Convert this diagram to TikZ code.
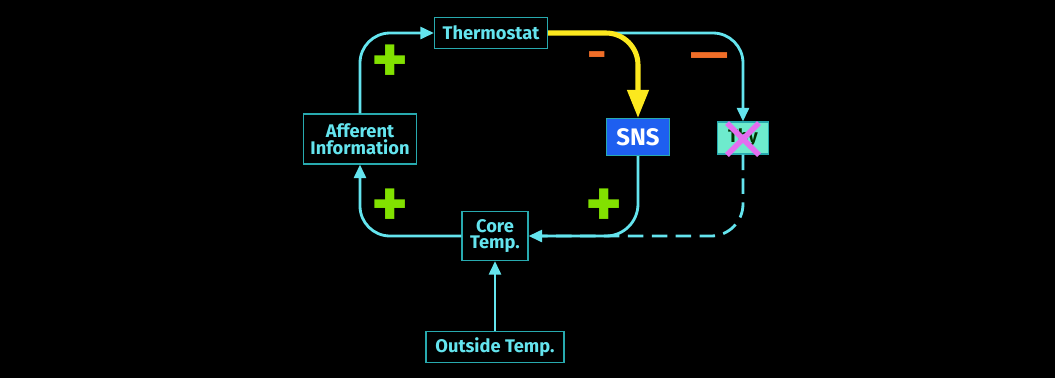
\documentclass[tikz,border=0pt]{standalone}
\usepackage{fontspec}
\setmainfont{Fira Sans}
\usepackage{xcolor}
\usetikzlibrary{positioning,arrows.meta,calc}
\definecolor{cyanline}{RGB}{100,228,238}
\definecolor{boxedge}{RGB}{40,170,175}
\definecolor{snsblue}{RGB}{30,95,240}
\definecolor{thyfill}{RGB}{110,235,205}
\definecolor{plusgreen}{RGB}{130,225,0}
\definecolor{minusorange}{RGB}{240,110,40}
\definecolor{crossmag}{RGB}{228,110,240}
\definecolor{hotyellow}{RGB}{252,232,30}
\tikzset{
  box/.style={rectangle, draw=boxedge, line width=0.8pt, align=center, text=cyanline, inner sep=1pt, font=\bfseries\fontsize{13}{14}\selectfont},
  flow/.style={-{Triangle[length=3.4mm,width=3mm]}, line width=2pt, color=cyanline, rounded corners=0.75cm},
  hot/.style={-{Triangle[length=7mm,width=5.2mm]}, line width=3.6pt, color=hotyellow, rounded corners=0.8cm},
  plus/.style={text=plusgreen, font=\bfseries\fontsize{50}{50}\selectfont, inner sep=0pt},
  minus/.style={text=minusorange, font=\bfseries\fontsize{34}{34}\selectfont, inner sep=0pt}
}
\begin{document}
\begin{tikzpicture}[x=0.025cm, y=-0.025cm]
\fill[black] (0,0) rectangle (1055,378);
\useasboundingbox (0,0) rectangle (1055,378);
\node[box, minimum width=2.825cm, minimum height=0.775cm] (thermo) at (491,33) {Thermostat};
\node[box, minimum width=2.825cm, minimum height=1.25cm] (aff) at (360,139) {Afferent\\[-2pt]Information};
\node[box, fill=snsblue, text=white, minimum width=1.575cm, minimum height=0.925cm, font=\bfseries\fontsize{17}{18}\selectfont] (sns) at (638,137) {SNS};
\node[box, fill=thyfill, text=black!80!green, minimum width=1.275cm, minimum height=0.8cm] (thy) at (743,138) {Thy};
\node[box, minimum width=1.65cm, minimum height=1.225cm] (core) at (495,236) {Core\\[-2pt]Temp.};
\node[box, below=1.75cm of core, minimum width=3.45cm, minimum height=0.775cm] (outside) {Outside Temp.};
% loop
\draw[flow] (aff.north) |- (thermo.west);
\draw[flow] (core.west) -| (aff.south);
\draw[flow] (thermo.east) -| (thy.north);
\draw[hot] (thermo.east) -| (sns.north);
\draw[flow, rounded corners=0.8cm] (sns.south) |- (core.east);
\draw[cyanline, line width=2pt, dashed, dash pattern=on 11pt off 6pt, rounded corners=0.8cm] (thy.south) |- (core.east);
\draw[flow, rounded corners=0] (outside.north) -- (core.south);
% blocked
\draw[crossmag, line width=3.8pt] ($(thy.center)+(-16,-15)$) -- ($(thy.center)+(16,17)$);
\draw[crossmag, line width=3.8pt] ($(thy.center)+(16,-15)$) -- ($(thy.center)+(-16,17)$);
% signs
\node[plus] (p1) at (390,64) {+};
\node[plus] (p2) at (390,208) {+};
\node[plus] (p3) at (604,208) {+};
\node[minus] (m1) at (597,61) {-};
\node[minus] (m2) at (710,62) {\textemdash};
\end{tikzpicture}
\end{document}
